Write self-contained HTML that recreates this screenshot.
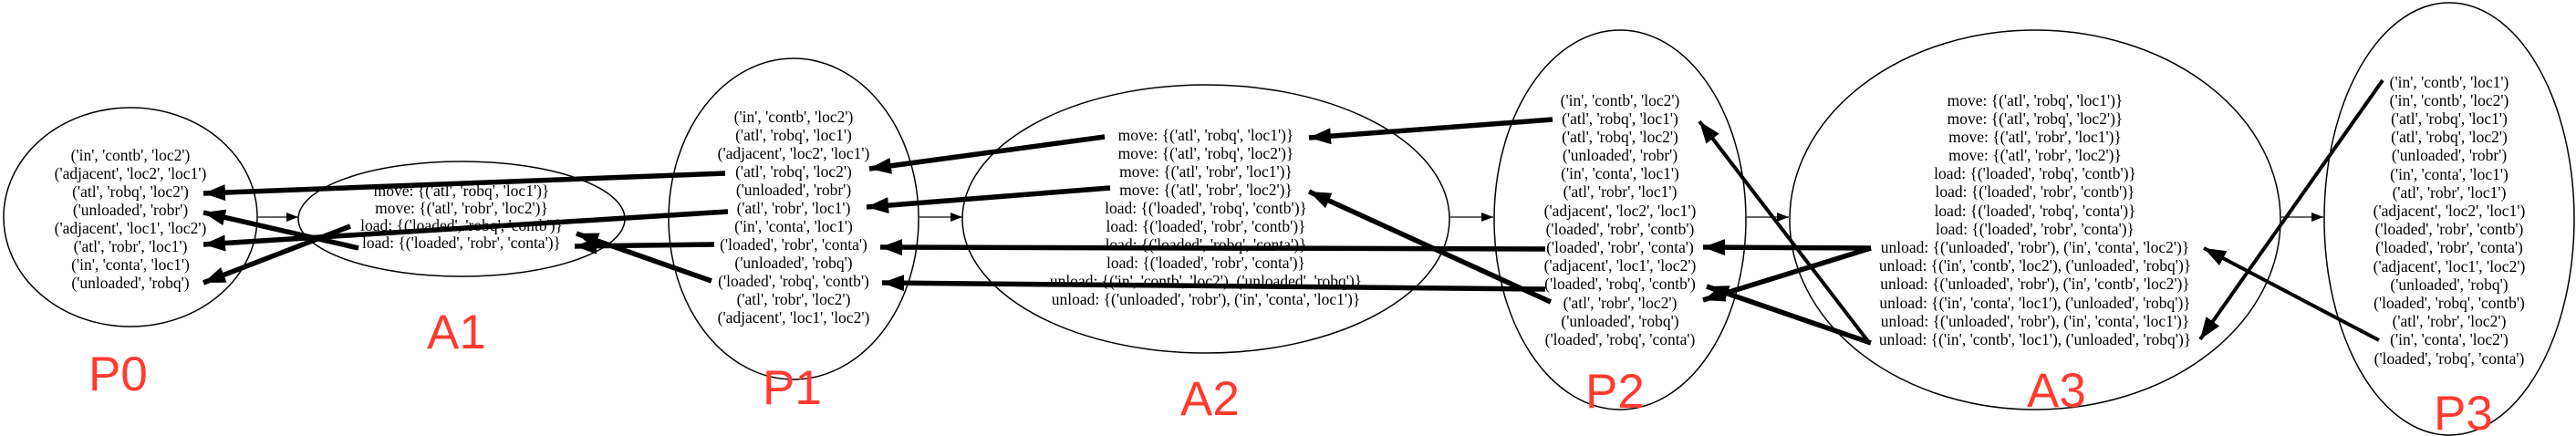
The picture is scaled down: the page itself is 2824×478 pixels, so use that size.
<!DOCTYPE html>
<html><head><meta charset="utf-8"><style>
html,body{margin:0;padding:0;background:#fff;}
svg{display:block;}
text{font-family:"Liberation Serif",serif;font-size:17.5px;fill:#000;}
.lab{font-family:"Liberation Sans",sans-serif;font-size:53px;fill:#ff3b30;}
</style></head><body>
<svg width="2824" height="478" viewBox="0 0 2824 478" xmlns="http://www.w3.org/2000/svg">
<defs>
<marker id="ah" markerUnits="userSpaceOnUse" markerWidth="26" markerHeight="20" refX="24" refY="10" orient="auto">
<path d="M0,1 L24,10 L0,19 Z" fill="#000"/></marker>
<marker id="sh" markerUnits="userSpaceOnUse" markerWidth="14" markerHeight="12" refX="13" refY="6" orient="auto">
<path d="M0,1 L13,6 L0,11 Z" fill="#000"/></marker>
</defs>
<g fill="none" stroke="#000" stroke-width="1.5">
<ellipse cx="143" cy="238" rx="139" ry="120"/>
<ellipse cx="506" cy="240" rx="179" ry="63"/>
<ellipse cx="870" cy="240" rx="137" ry="176"/>
<ellipse cx="1322" cy="240" rx="267" ry="147"/>
<ellipse cx="1776" cy="241" rx="138" ry="208"/>
<ellipse cx="2231" cy="241" rx="269" ry="208"/>
<ellipse cx="2685" cy="240" rx="137" ry="237"/>
</g>
<g stroke="#333" stroke-width="1.5" marker-end="url(#sh)">
<line x1="282" y1="238" x2="327" y2="238"/>
<line x1="1007" y1="238" x2="1055" y2="238"/>
<line x1="1589" y1="238" x2="1637" y2="238"/>
<line x1="1914" y1="238" x2="1961" y2="238"/>
<line x1="2500" y1="238" x2="2547" y2="238"/>
</g>
<g text-anchor="middle">
<text x="143" y="176">('in', 'contb', 'loc2')</text>
<text x="143" y="196">('adjacent', 'loc2', 'loc1')</text>
<text x="143" y="216">('atl', 'robq', 'loc2')</text>
<text x="143" y="236">('unloaded', 'robr')</text>
<text x="143" y="256">('adjacent', 'loc1', 'loc2')</text>
<text x="143" y="276">('atl', 'robr', 'loc1')</text>
<text x="143" y="296">('in', 'conta', 'loc1')</text>
<text x="143" y="316">('unloaded', 'robq')</text>

<text x="506" y="215">move: {('atl', 'robq', 'loc1')}</text>
<text x="506" y="234">move: {('atl', 'robr', 'loc2')}</text>
<text x="506" y="253">load: {('loaded', 'robq', 'contb')}</text>
<text x="506" y="272">load: {('loaded', 'robr', 'conta')}</text>

<text x="870" y="134">('in', 'contb', 'loc2')</text>
<text x="870" y="154">('atl', 'robq', 'loc1')</text>
<text x="870" y="174">('adjacent', 'loc2', 'loc1')</text>
<text x="870" y="194">('atl', 'robq', 'loc2')</text>
<text x="870" y="214">('unloaded', 'robr')</text>
<text x="870" y="234">('atl', 'robr', 'loc1')</text>
<text x="870" y="254">('in', 'conta', 'loc1')</text>
<text x="870" y="274">('loaded', 'robr', 'conta')</text>
<text x="870" y="294">('unloaded', 'robq')</text>
<text x="870" y="314">('loaded', 'robq', 'contb')</text>
<text x="870" y="334">('atl', 'robr', 'loc2')</text>
<text x="870" y="354">('adjacent', 'loc1', 'loc2')</text>

<text x="1322" y="154">move: {('atl', 'robq', 'loc1')}</text>
<text x="1322" y="174">move: {('atl', 'robq', 'loc2')}</text>
<text x="1322" y="194">move: {('atl', 'robr', 'loc1')}</text>
<text x="1322" y="214">move: {('atl', 'robr', 'loc2')}</text>
<text x="1322" y="234">load: {('loaded', 'robq', 'contb')}</text>
<text x="1322" y="254">load: {('loaded', 'robr', 'contb')}</text>
<text x="1322" y="274">load: {('loaded', 'robq', 'conta')}</text>
<text x="1322" y="294">load: {('loaded', 'robr', 'conta')}</text>
<text x="1322" y="314">unload: {('in', 'contb', 'loc2'), ('unloaded', 'robq')}</text>
<text x="1322" y="334">unload: {('unloaded', 'robr'), ('in', 'conta', 'loc1')}</text>

<text x="1776" y="116">('in', 'contb', 'loc2')</text>
<text x="1776" y="136">('atl', 'robq', 'loc1')</text>
<text x="1776" y="156">('atl', 'robq', 'loc2')</text>
<text x="1776" y="176">('unloaded', 'robr')</text>
<text x="1776" y="196">('in', 'conta', 'loc1')</text>
<text x="1776" y="216">('atl', 'robr', 'loc1')</text>
<text x="1776" y="237">('adjacent', 'loc2', 'loc1')</text>
<text x="1776" y="257">('loaded', 'robr', 'contb')</text>
<text x="1776" y="277">('loaded', 'robr', 'conta')</text>
<text x="1776" y="297">('adjacent', 'loc1', 'loc2')</text>
<text x="1776" y="317">('loaded', 'robq', 'contb')</text>
<text x="1776" y="338">('atl', 'robr', 'loc2')</text>
<text x="1776" y="358">('unloaded', 'robq')</text>
<text x="1776" y="378">('loaded', 'robq', 'conta')</text>

<text x="2231" y="116">move: {('atl', 'robq', 'loc1')}</text>
<text x="2231" y="136">move: {('atl', 'robq', 'loc2')}</text>
<text x="2231" y="156">move: {('atl', 'robr', 'loc1')}</text>
<text x="2231" y="176">move: {('atl', 'robr', 'loc2')}</text>
<text x="2231" y="196">load: {('loaded', 'robq', 'contb')}</text>
<text x="2231" y="216">load: {('loaded', 'robr', 'contb')}</text>
<text x="2231" y="237">load: {('loaded', 'robq', 'conta')}</text>
<text x="2231" y="257">load: {('loaded', 'robr', 'conta')}</text>
<text x="2231" y="277">unload: {('unloaded', 'robr'), ('in', 'conta', 'loc2')}</text>
<text x="2231" y="297">unload: {('in', 'contb', 'loc2'), ('unloaded', 'robq')}</text>
<text x="2231" y="317">unload: {('unloaded', 'robr'), ('in', 'contb', 'loc2')}</text>
<text x="2231" y="338">unload: {('in', 'conta', 'loc1'), ('unloaded', 'robq')}</text>
<text x="2231" y="358">unload: {('unloaded', 'robr'), ('in', 'conta', 'loc1')}</text>
<text x="2231" y="378">unload: {('in', 'contb', 'loc1'), ('unloaded', 'robq')}</text>

<text x="2685" y="96">('in', 'contb', 'loc1')</text>
<text x="2685" y="116">('in', 'contb', 'loc2')</text>
<text x="2685" y="136">('atl', 'robq', 'loc1')</text>
<text x="2685" y="156">('atl', 'robq', 'loc2')</text>
<text x="2685" y="176">('unloaded', 'robr')</text>
<text x="2685" y="197">('in', 'conta', 'loc1')</text>
<text x="2685" y="217">('atl', 'robr', 'loc1')</text>
<text x="2685" y="237">('adjacent', 'loc2', 'loc1')</text>
<text x="2685" y="257">('loaded', 'robr', 'contb')</text>
<text x="2685" y="277">('loaded', 'robr', 'conta')</text>
<text x="2685" y="298">('adjacent', 'loc1', 'loc2')</text>
<text x="2685" y="318">('unloaded', 'robq')</text>
<text x="2685" y="338">('loaded', 'robq', 'contb')</text>
<text x="2685" y="358">('atl', 'robr', 'loc2')</text>
<text x="2685" y="378">('in', 'conta', 'loc2')</text>
<text x="2685" y="399">('loaded', 'robq', 'conta')</text>
</g>
<g stroke="#000" stroke-width="5.5" fill="none" marker-end="url(#ah)">
<line x1="795" y1="190" x2="223" y2="212"/>
<line x1="393" y1="272" x2="223" y2="233"/>
<line x1="798" y1="232" x2="223" y2="268"/>
<line x1="384" y1="248" x2="223" y2="310"/>
<line x1="780" y1="308" x2="632" y2="256"/>
<line x1="783" y1="268" x2="630" y2="270"/>
<line x1="1211" y1="150" x2="953" y2="185"/>
<line x1="1217" y1="206" x2="950" y2="227"/>
<line x1="1694" y1="273" x2="965" y2="271"/>
<line x1="1694" y1="317" x2="967" y2="310"/>
<line x1="1702" y1="131" x2="1435" y2="151"/>
<line x1="1700" y1="331" x2="1435" y2="210"/>
<line x1="2051" y1="272" x2="1867" y2="271"/>
<line x1="2051" y1="272" x2="1867" y2="329"/>
<line x1="2051" y1="376" x2="1871" y2="314"/>
</g>
<g stroke="#000" stroke-width="4" fill="none" marker-end="url(#ah)">
<line x1="2047" y1="373" x2="1863" y2="133"/>
<line x1="2612" y1="88" x2="2412" y2="372"/>
<line x1="2608" y1="373" x2="2416" y2="272"/>
</g>
<text class="lab" x="97" y="428">P0</text>
<text class="lab" x="468" y="382">A1</text>
<text class="lab" x="836" y="443">P1</text>
<text class="lab" x="1294" y="455">A2</text>
<text class="lab" x="1738" y="447">P2</text>
<text class="lab" x="2222" y="446">A3</text>
<text class="lab" x="2668" y="471">P3</text>
</svg>
</body></html>
